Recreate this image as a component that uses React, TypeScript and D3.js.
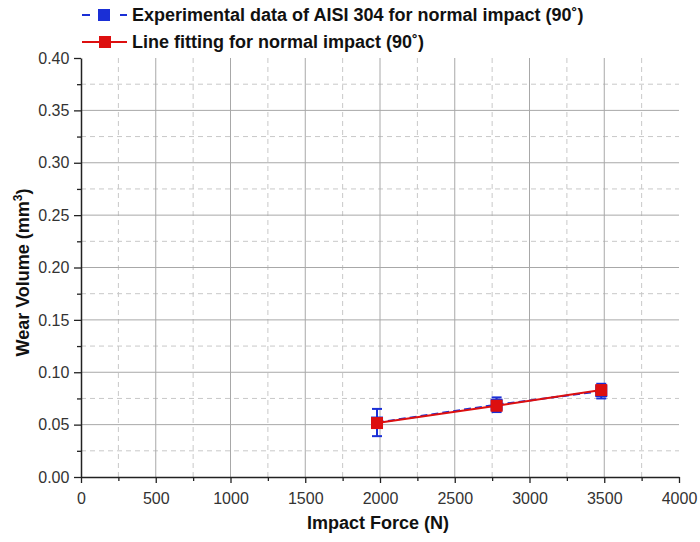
import React, { useEffect, useRef } from 'react';
import * as d3 from 'd3';

// impact force (N) and measured wear volume (mm^3)
const forces = [1980, 2780, 3480];
const wear = [0.052, 0.069, 0.082];
const wearErr = [0.013, 0.007, 0.007];
// fitted line values at the same forces
const fitWear = [0.0515, 0.0680, 0.0830];

const xTicks = [0, 500, 1000, 1500, 2000, 2500, 3000, 3500, 4000];
const yTicks = [0, 0.05, 0.1, 0.15, 0.2, 0.25, 0.3, 0.35, 0.4];

const legendLabels = [
  'Experimental data of AISI 304 for normal impact (90\u02DA)',
  'Line fitting for normal impact (90\u02DA)',
];

const BLUE = '#1a2fd6';
const RED = '#dd0f0f';
const FONT = 'Liberation Sans, Arial, sans-serif';

export default function App() {
  const ref = useRef<SVGSVGElement>(null);

  useEffect(() => {
    const svg = d3.select(ref.current);
    svg.selectAll('*').remove();

    const left = 81, right = 679, top = 58, bottom = 477;
    const x = d3.scaleLinear().domain([0, 4000]).range([left, right]);
    const y = d3.scaleLinear().domain([0, 0.4]).range([bottom, top]);

    const xMinor = d3.range(250, 4000, 500);
    const yMinor = d3.range(0.025, 0.4, 0.05);

    const grid = svg.append('g');
    // minor dashed grid
    grid.selectAll('.vmin').data(xMinor).join('line')
      .attr('x1', d => x(d)).attr('x2', d => x(d)).attr('y1', top).attr('y2', bottom)
      .attr('stroke', '#c8c8c8').attr('stroke-dasharray', '5,4');
    grid.selectAll('.hmin').data(yMinor).join('line')
      .attr('x1', left).attr('x2', right).attr('y1', d => y(d)).attr('y2', d => y(d))
      .attr('stroke', '#c8c8c8').attr('stroke-dasharray', '5,4');
    // major solid grid (none on the top/right limits)
    grid.selectAll('.vmaj').data(xTicks.slice(1, -1)).join('line')
      .attr('x1', d => x(d)).attr('x2', d => x(d)).attr('y1', top).attr('y2', bottom)
      .attr('stroke', '#a8a8a8');
    grid.selectAll('.hmaj').data(yTicks.slice(1, -1)).join('line')
      .attr('x1', left).attr('x2', right).attr('y1', d => y(d)).attr('y2', d => y(d))
      .attr('stroke', '#a8a8a8');

    // axes
    const xAxis = svg.append('g').attr('transform', `translate(0,${bottom})`)
      .call(d3.axisBottom(x).tickValues(xTicks).tickFormat(d3.format('d')).tickSize(6).tickSizeOuter(0));
    svg.append('g').attr('transform', `translate(0,${bottom})`)
      .call(d3.axisBottom(x).tickValues(xMinor).tickFormat(() => '').tickSize(4).tickSizeOuter(0))
      .select('.domain').remove();
    const yAxis = svg.append('g').attr('transform', `translate(${left},0)`)
      .call(d3.axisLeft(y).tickValues(yTicks).tickFormat(d3.format('.2f')).tickSize(7).tickSizeOuter(0));
    svg.append('g').attr('transform', `translate(${left},0)`)
      .call(d3.axisLeft(y).tickValues(yMinor).tickFormat(() => '').tickSize(4).tickSizeOuter(0))
      .select('.domain').remove();

    svg.selectAll('.domain').attr('stroke', '#222').attr('stroke-width', 1.5);
    svg.selectAll('.tick line').attr('stroke', '#222').attr('stroke-width', 1.3);
    svg.selectAll('.tick text')
      .attr('font-family', FONT).attr('font-size', 16).attr('fill', '#333');
    xAxis.selectAll('.tick text').attr('dy', '1.1em');
    yAxis.selectAll('.tick text').attr('dx', '-0.1em');

    // axis titles
    svg.append('text').attr('x', 378).attr('y', 529)
      .attr('text-anchor', 'middle').attr('font-family', FONT)
      .attr('font-size', 18).attr('font-weight', 'bold').attr('fill', '#111')
      .text('Impact Force (N)');
    const yt = svg.append('text')
      .attr('transform', `translate(29,${(top + bottom) / 2 + 5}) rotate(-90)`)
      .attr('text-anchor', 'middle').attr('font-family', FONT)
      .attr('font-size', 18).attr('font-weight', 'bold').attr('fill', '#111');
    yt.append('tspan').text('Wear Volume (mm');
    yt.append('tspan').attr('font-size', 12).attr('dy', -7).text('3');
    yt.append('tspan').attr('dy', 7).text(')');

    const pts = forces.map((f, i) => ({ f, w: wear[i], e: wearErr[i], fit: fitWear[i] }));

    // experimental: dashed blue line, error bars, squares
    svg.append('path').datum(pts)
      .attr('d', d3.line<any>().x(d => x(d.f)).y(d => y(d.w)))
      .attr('fill', 'none').attr('stroke', BLUE).attr('stroke-width', 2)
      .attr('stroke-dasharray', '7,4');
    const eb = svg.append('g').attr('stroke', BLUE).attr('stroke-width', 2);
    pts.forEach(p => {
      eb.append('line').attr('x1', x(p.f)).attr('x2', x(p.f)).attr('y1', y(p.w - p.e)).attr('y2', y(p.w + p.e));
      [p.w - p.e, p.w + p.e].forEach(v => {
        eb.append('line').attr('x1', x(p.f) - 5).attr('x2', x(p.f) + 5).attr('y1', y(v)).attr('y2', y(v));
      });
    });
    svg.append('g').selectAll('rect').data(pts).join('rect')
      .attr('x', d => x(d.f) - 6).attr('y', d => y(d.w) - 6).attr('width', 12).attr('height', 12)
      .attr('fill', BLUE);

    // fitted line: red with squares
    svg.append('path').datum(pts)
      .attr('d', d3.line<any>().x(d => x(d.f)).y(d => y(d.fit)))
      .attr('fill', 'none').attr('stroke', RED).attr('stroke-width', 2);
    svg.append('g').selectAll('rect').data(pts).join('rect')
      .attr('x', d => x(d.f) - 6).attr('y', d => y(d.fit) - 6).attr('width', 12).attr('height', 12)
      .attr('fill', RED);

    // legend
    const lg = svg.append('g');
    const ly = [15, 42];
    lg.append('line').attr('x1', 82).attr('x2', 127).attr('y1', ly[0]).attr('y2', ly[0])
      .attr('stroke', BLUE).attr('stroke-width', 2).attr('stroke-dasharray', '8,30,7');
    lg.append('rect').attr('x', 98).attr('y', ly[0] - 6).attr('width', 12).attr('height', 12).attr('fill', BLUE);
    lg.append('line').attr('x1', 82).attr('x2', 127).attr('y1', ly[1]).attr('y2', ly[1])
      .attr('stroke', RED).attr('stroke-width', 2);
    lg.append('rect').attr('x', 99).attr('y', ly[1] - 6).attr('width', 12).attr('height', 12).attr('fill', RED);
    legendLabels.forEach((t, i) => {
      lg.append('text').attr('x', 132).attr('y', ly[i] + 6)
        .attr('font-family', FONT)
        .attr('font-size', 18).attr('font-weight', 'bold').attr('fill', '#111').text(t);
    });
  }, []);

  return (
    <svg ref={ref} width={700} height={542} style={{ position: 'absolute', left: 0, top: 0, background: '#fff' }} />
  );
}
